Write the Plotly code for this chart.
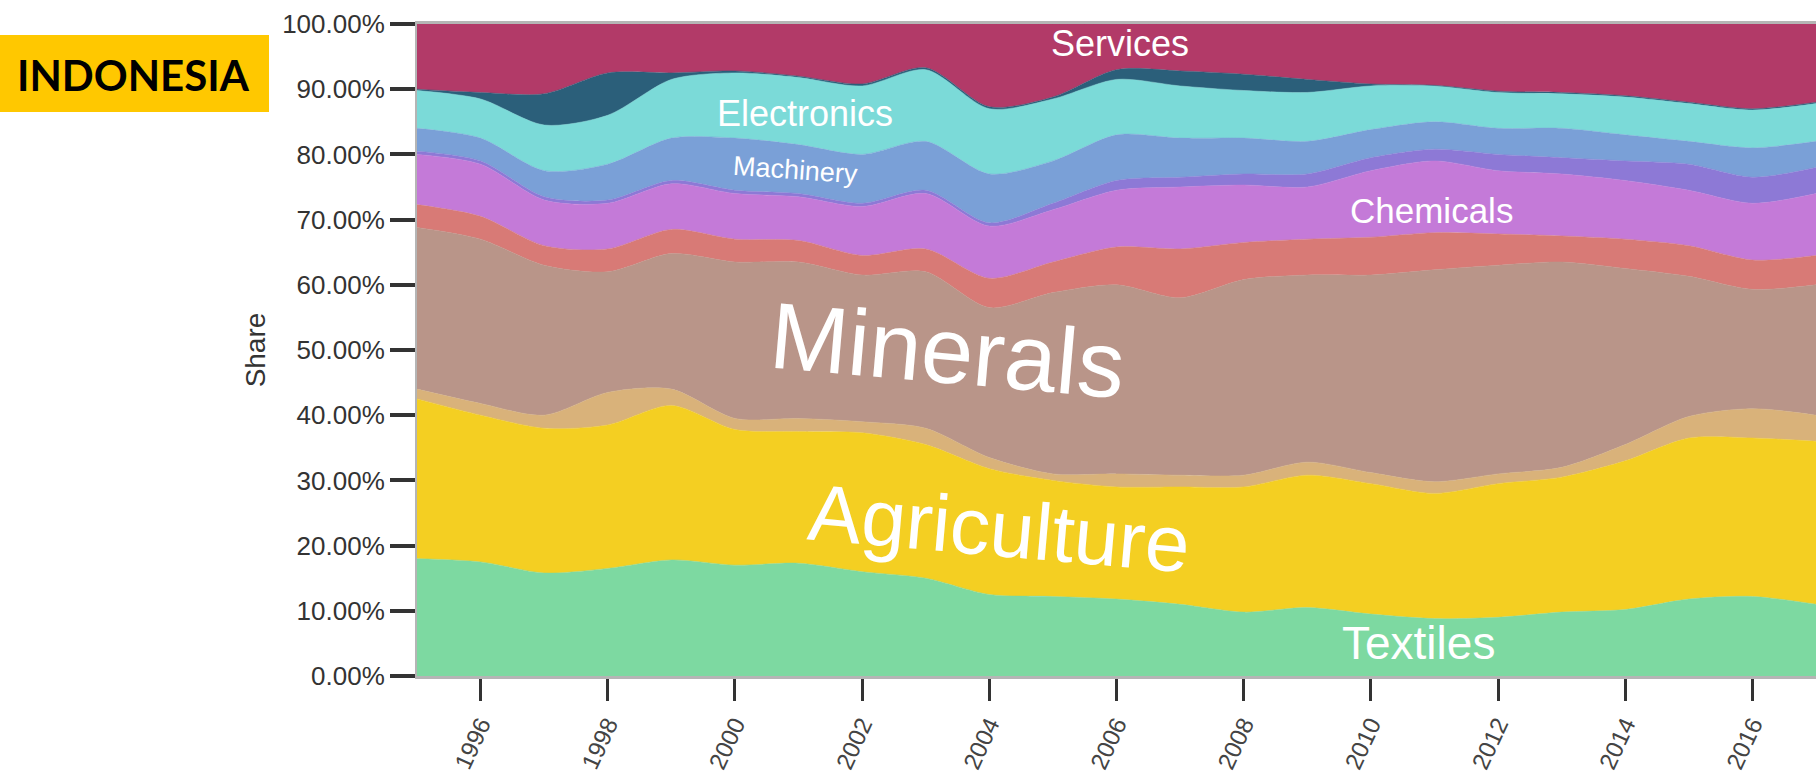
import plotly.graph_objects as go

# Export shares by sector (percent of total exports), Indonesia
years = list(range(1995, 2018))

textiles = [18.0, 17.5, 15.8, 16.5, 17.8, 17.0, 17.3, 16.0, 15.0, 12.5, 12.2, 11.8,
            11.0, 9.8, 10.5, 9.5, 8.8, 9.0, 9.8, 10.2, 11.8, 12.2, 11.0]
agriculture = [24.5, 22.5, 22.2, 22.0, 23.7, 20.8, 20.2, 21.3, 20.5, 19.3, 17.8, 17.2,
               18.0, 19.2, 20.3, 20.0, 19.2, 20.5, 20.7, 22.8, 24.7, 24.3, 25.0]
stone = [1.5, 1.8, 2.0, 5.0, 2.5, 1.7, 2.0, 1.7, 2.5, 1.7, 1.0, 2.0,
         1.8, 1.8, 2.0, 1.7, 1.8, 1.5, 1.5, 2.5, 3.3, 4.5, 4.0]
minerals = [24.8, 25.2, 23.0, 18.5, 20.8, 24.0, 24.0, 22.5, 24.0, 23.0, 27.8, 29.0,
            27.2, 30.0, 28.7, 30.3, 32.5, 32.0, 31.5, 27.0, 21.5, 18.3, 20.0]
metals = [3.5, 3.5, 3.0, 3.5, 3.7, 3.5, 3.3, 3.0, 3.5, 4.5, 4.7, 5.8,
          7.5, 5.7, 5.5, 5.8, 5.7, 4.8, 4.0, 4.5, 4.7, 4.5, 4.5]
chemicals = [7.7, 8.0, 7.0, 7.0, 7.0, 7.0, 6.7, 7.5, 8.5, 8.0, 8.0, 8.7,
             9.5, 8.8, 8.0, 10.2, 11.0, 9.7, 9.5, 9.0, 8.5, 8.7, 9.5]
vehicles = [0.5, 0.5, 0.5, 0.5, 0.5, 0.5, 0.5, 0.5, 0.5, 0.5, 1.0, 1.5,
            1.5, 1.7, 2.0, 2.0, 1.8, 2.5, 2.5, 3.0, 4.0, 4.0, 4.0]
machinery = [3.5, 3.5, 4.0, 5.5, 6.5, 8.0, 7.5, 7.5, 7.5, 7.5, 6.5, 7.0,
             6.0, 5.5, 5.0, 4.3, 4.2, 4.0, 4.5, 4.0, 3.5, 4.5, 4.0]
electronics = [5.8, 6.0, 7.0, 7.5, 9.0, 10.0, 10.3, 10.5, 11.0, 10.0, 9.5, 8.5,
               8.0, 7.3, 7.5, 6.7, 5.5, 5.5, 5.3, 5.8, 5.8, 5.8, 5.8]
other = [0.2, 1.0, 4.8, 6.5, 1.0, 0.3, 0.2, 0.3, 0.3, 0.3, 0.3, 1.5,
         2.3, 2.5, 2.0, 0.3, 0.1, 0.2, 0.2, 0.2, 0.2, 0.2, 0.2]
services = [10.0, 10.5, 10.7, 7.5, 7.5, 7.2, 8.0, 9.2, 6.7, 12.7, 11.2, 7.0,
            7.2, 7.7, 8.5, 9.2, 9.4, 10.3, 10.5, 11.0, 12.0, 13.0, 12.0]

sectors = [
    ("Textiles", textiles, "#7dd9a1"),
    ("Agriculture", agriculture, "#f4cf22"),
    ("Stone", stone, "#d9b27a"),
    ("Minerals", minerals, "#b99589"),
    ("Metals", metals, "#d87a76"),
    ("Chemicals", chemicals, "#c47ad8"),
    ("Vehicles", vehicles, "#8d79d6"),
    ("Machinery", machinery, "#7aa0d7"),
    ("Electronics", electronics, "#7bdad8"),
    ("Other", other, "#2b5f7a"),
    ("Services", services, "#b23a68"),
]

tick_years = list(range(1996, 2017, 2))

fig = go.Figure()
for name, vals, color in sectors:
    fig.add_trace(go.Scatter(
        x=years, y=vals, name=name, mode="lines",
        stackgroup="share", groupnorm="percent",
        line=dict(width=0.5, color=color, shape="spline", smoothing=0.8),
        fillcolor=color, hoverinfo="x+y+name",
    ))

# In-area sector labels: (text, x, y, font size, rotation)
labels = [
    ("Services", 2006.05, 97.0, 36, 0),
    ("Electronics", 2001.1, 86.3, 36, 0),
    ("Machinery", 2000.95, 77.6, 27, 4),
    ("Chemicals", 2010.95, 71.4, 35, 0),
    ("Minerals", 2003.35, 49.9, 94, 5),
    ("Agriculture", 2004.15, 22.7, 80, 5),
    ("Textiles", 2010.75, 5.0, 46, 0),
]
for text, lx, ly, size, angle in labels:
    fig.add_annotation(
        x=lx, y=ly, xref="x", yref="y", text=text, showarrow=False,
        textangle=angle, xanchor="center", yanchor="middle",
        font=dict(family="Liberation Sans, Arial", size=size, color="white"),
    )

W, H = 1816, 784
ML, MT, MB = 417, 24, 108
plot_w = W - ML
plot_h = H - MT - MB


def px_x(p):
    return (p - ML) / plot_w


def px_y(p):
    return (H - MB - p) / plot_h


# Country badge
fig.add_shape(
    type="rect", xref="paper", yref="paper",
    x0=px_x(0), x1=px_x(269), y0=px_y(112), y1=px_y(35),
    fillcolor="#ffc800", line=dict(width=0), layer="above",
)
fig.add_annotation(
    xref="paper", yref="paper", x=px_x(133), y=px_y(75),
    xanchor="center", yanchor="middle",
    text="<b>INDONESIA</b>", showarrow=False,
    font=dict(family="Lato", size=42, color="black"),
)

fig.update_layout(
    width=W, height=H,
    margin=dict(l=ML, r=0, t=MT, b=MB),
    paper_bgcolor="white", plot_bgcolor="white",
    showlegend=False,
    font=dict(family="Liberation Sans, Arial", color="#333"),
)
fig.update_xaxes(
    range=[1995, 2017], tickvals=tick_years, ticktext=[str(y) for y in tick_years],
    tickangle=-65, ticks="outside", ticklen=22, tickwidth=3, tickcolor="#333",
    tickfont=dict(size=24, color="#444"),
    showline=True, linecolor="#b5b5b5", linewidth=3, mirror=True,
    showgrid=False, zeroline=False,
)
fig.update_yaxes(
    range=[0, 100], dtick=10, tickformat=".2f", ticksuffix="%",
    ticks="outside", ticklen=25, tickwidth=4, tickcolor="#333",
    tickfont=dict(size=26, color="#333"),
    showline=True, linecolor="#b5b5b5", linewidth=2,
    showgrid=False, zeroline=False,
    title=dict(text="Share", font=dict(size=28, color="#333"), standoff=8),
)

fig.write_html("out.html")
